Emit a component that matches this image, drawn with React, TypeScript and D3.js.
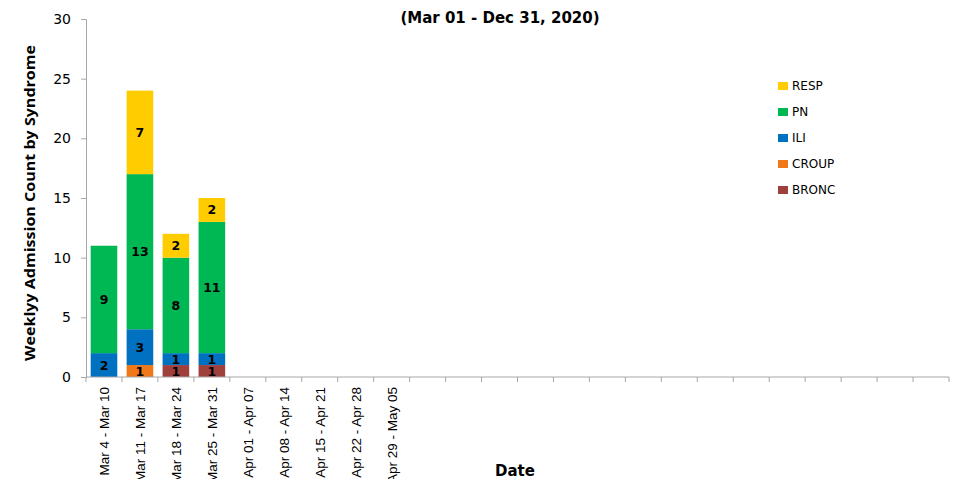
import React, { useEffect, useRef } from 'react';
import * as d3 from 'd3';

// week labels (only the first nine are printed, rest of the year left blank)
const weeks = [
  'Mar 4 - Mar 10', 'Mar 11 - Mar 17', 'Mar 18 - Mar 24', 'Mar 25 - Mar 31',
  'Apr 01 - Apr 07', 'Apr 08 - Apr 14', 'Apr 15 - Apr 21', 'Apr 22 - Apr 28',
  'Apr 29 - May 05',
  '', '', '', '', '', '', '', '', '', '', '', '', '', '', '',
];

const syndromes = ['BRONC', 'CROUP', 'ILI', 'PN', 'RESP'];
const colors = ['#A0403D', '#F07818', '#0070C0', '#00B853', '#FFCC00'];

// counts per week, one array per syndrome
const bronc = [0, 0, 1, 1];
const croup = [0, 1, 0, 0];
const ili = [2, 3, 1, 1];
const pn = [9, 13, 8, 11];
const resp = [0, 7, 2, 2];

const yTicks = [0, 5, 10, 15, 20, 25, 30];

export default function App() {
  const ref = useRef<SVGSVGElement>(null);

  useEffect(() => {
    const svg = d3.select(ref.current);
    svg.selectAll('*').remove();

    const margin = { top: 19, right: 11, bottom: 102, left: 86 };
    const width = 960 - margin.left - margin.right;
    const height = 479 - margin.top - margin.bottom;

    const x = d3.scaleBand().domain(weeks.map((d, i) => String(i)))
      .range([0, width]).paddingInner(0.26).paddingOuter(0.13);
    const y = d3.scaleLinear().domain([0, 30]).range([height, 0]);

    const g = svg.append('g')
      .attr('transform', 'translate(' + margin.left + ',' + margin.top + ')');

    // stack the series
    const rows = weeks.map((w, i) => ({
      BRONC: bronc[i] || 0, CROUP: croup[i] || 0, ILI: ili[i] || 0,
      PN: pn[i] || 0, RESP: resp[i] || 0, idx: String(i),
    }));
    const stacked = d3.stack<any>().keys(syndromes)(rows);

    stacked.forEach((layer, li) => {
      const lg = g.append('g');
      layer.forEach((seg, i) => {
        const v = seg[1] - seg[0];
        if (!v) return;
        lg.append('rect')
          .attr('x', x(String(i)))
          .attr('width', x.bandwidth())
          .attr('y', y(seg[1]))
          .attr('height', y(seg[0]) - y(seg[1]))
          .attr('fill', colors[li]);
        lg.append('text')
          .attr('x', x(String(i)) + x.bandwidth() / 2)
          .attr('y', (y(seg[0]) + y(seg[1])) / 2)
          .attr('dy', '0.36em')
          .attr('text-anchor', 'middle')
          .style('font-family', 'DejaVu Sans')
          .style('font-weight', 'bold')
          .style('font-size', '12.5px')
          .attr('fill', '#000')
          .text(v);
      });
    });

    // y axis
    const yAxis = d3.axisLeft(y).tickValues(yTicks).tickSize(5).tickPadding(10);
    const ya = g.append('g').call(yAxis);
    ya.select('.domain').attr('stroke', '#A6A6A6');
    ya.selectAll('.tick line').attr('stroke', '#A6A6A6');
    ya.selectAll('.tick text')
      .style('font-family', 'DejaVu Sans')
      .style('font-size', '14px')
      .attr('fill', '#000');

    // x axis, ticks at band edges
    const xa = g.append('g').attr('transform', 'translate(0,' + height + ')');
    xa.append('line').attr('x1', 0).attr('x2', width)
      .attr('stroke', '#A6A6A6');
    const edges = weeks.map((w, i) => x(String(i)) - x.step() * x.paddingInner() / 2);
    edges.push(width);
    xa.selectAll('.tk').data(edges).enter().append('line')
      .attr('x1', d => d).attr('x2', d => d)
      .attr('y1', 0).attr('y2', 5)
      .attr('stroke', '#A6A6A6');
    xa.selectAll('.lbl').data(weeks).enter().append('text')
      .attr('transform', (d, i) =>
        'translate(' + (x(String(i)) + x.bandwidth() / 2 + 5) + ',10) rotate(-90)')
      .attr('text-anchor', 'end')
      .style('font-family', 'Liberation Sans')
      .style('font-size', '13.5px')
      .attr('fill', '#000')
      .text(d => d);

    // axis titles
    svg.append('text')
      .attr('transform', 'translate(35,' + (margin.top + height / 2 + 5) + ') rotate(-90)')
      .attr('text-anchor', 'middle')
      .style('font-family', 'Open Sans')
      .style('font-weight', 'bold')
      .style('font-size', '15px')
      .attr('textLength', 316)
      .attr('lengthAdjust', 'spacingAndGlyphs')
      .text('Weeklyy Admission Count by Syndrome');

    svg.append('text')
      .attr('x', 515).attr('y', 476)
      .attr('text-anchor', 'middle')
      .style('font-family', 'DejaVu Sans')
      .style('font-weight', 'bold')
      .style('font-size', '15px')
      .text('Date');

    // title (first line sits above the picture, only descenders show)
    svg.append('text')
      .attr('x', 500).attr('y', -3)
      .attr('text-anchor', 'middle')
      .style('font-family', 'DejaVu Sans')
      .style('font-weight', 'bold')
      .style('font-size', '15px')
      .text('Respiratory Admissions by Syndrome - Weekly');
    svg.append('text')
      .attr('x', 500).attr('y', 23)
      .attr('text-anchor', 'middle')
      .style('font-family', 'DejaVu Sans')
      .style('font-weight', 'bold')
      .style('font-size', '15px')
      .text('(Mar 01 - Dec 31, 2020)');

    // legend, top entry is RESP
    const le = svg.append('g').attr('transform', 'translate(778,86)');
    syndromes.slice().reverse().forEach((s, i) => {
      le.append('rect')
        .attr('x', 0).attr('y', i * 26 - 4)
        .attr('width', 10).attr('height', 8)
        .attr('fill', colors[syndromes.length - 1 - i]);
      le.append('text')
        .attr('x', 14).attr('y', i * 26)
        .attr('dy', '0.36em')
        .style('font-family', 'DejaVu Sans')
        .style('font-size', '12px')
        .text(s);
    });
  }, []);

  return (
    <svg ref={ref} width={960} height={479}
      style={{ position: 'absolute', left: 0, top: 0, background: '#fff' }} />
  );
}
